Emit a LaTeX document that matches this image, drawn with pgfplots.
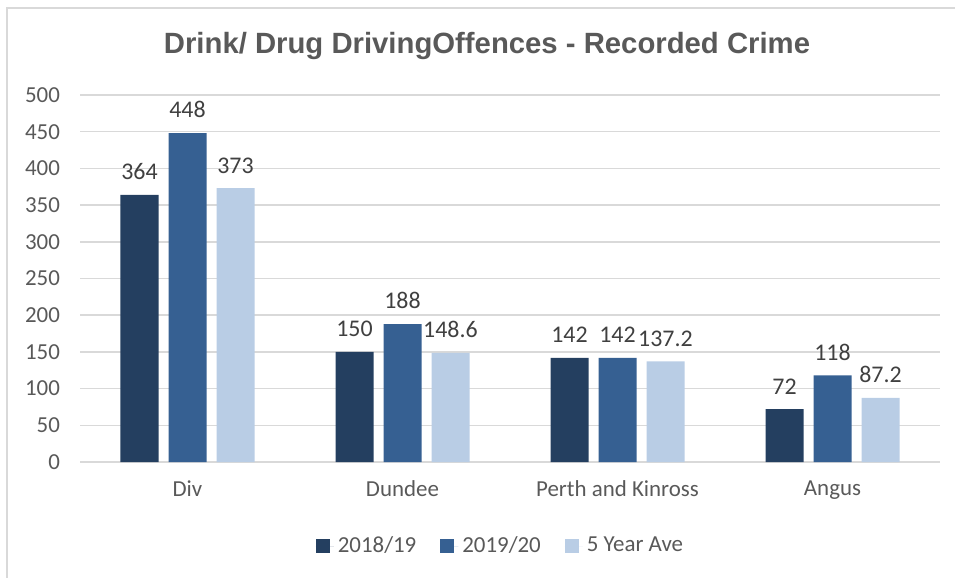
\documentclass[border=0pt]{standalone}
\usepackage{pgfplots}
\pgfplotsset{compat=1.18}
\usepackage{fontspec}
\setmainfont{Carlito}
\newfontfamily\titlefont{Liberation Sans}
\definecolor{cA}{HTML}{243F60}
\definecolor{cB}{HTML}{366092}
\definecolor{cC}{HTML}{B9CDE5}
\definecolor{gridc}{HTML}{D9D9D9}
\definecolor{txt}{HTML}{595959}
\definecolor{lbl}{HTML}{404040}
\begin{document}
\begin{tikzpicture}
\path[use as bounding box] (0,0) rectangle (477.5bp,289bp);
\draw[gridc, line width=1bp] (3.5bp,0) -- (3.5bp,285bp) -- (477.5bp,285bp);
\node[font=\titlefont\bfseries\fontsize{14.7}{17}\selectfont, text=txt] at (243.5bp,266bp) {Drink/ Drug DrivingOffences - Recorded Crime};
\begin{axis}[
  at={(40bp,58bp)}, anchor=south west,
  scale only axis,
  width=430bp, height=183.5bp,
  ybar=5bp, bar width=19bp,
  xmin=-0.5, xmax=3.5,
  ymin=0, ymax=500,
  ytick={0,50,...,500},
  xtick=data,
  xticklabels={Div,Dundee,Perth and Kinross,Angus},
  axis line style={draw=none},
  ymajorgrids, grid style={gridc, line width=0.75bp},
  major tick length=0pt,
  /pgf/number format/assume math mode=true,
  tick label style={font=\fontsize{11.5}{13}\selectfont, text=txt},
  yticklabel style={anchor=east, xshift=-6.5bp},
  xticklabel style={anchor=north, yshift=-6bp},
  nodes near coords,
  every node near coord/.append style={font=\fontsize{12}{14}\selectfont, text=lbl, yshift=4bp},
  legend style={at={(0.49,-0.229)}, anchor=center, draw=none, legend columns=-1,
    font=\fontsize{11.5}{13}\selectfont, text=txt,
    /tikz/every even column/.append style={column sep=10bp}},
  legend image code/.code={\fill[#1] (0bp,-3.5bp) rectangle (7bp,3.5bp); \path (0bp,0bp) -- (9bp,0bp);},
  clip=false,
]
\addplot[fill=cA, draw=none] coordinates {(0,364) (1,150) (2,142) (3,72)};
\addplot[fill=cB, draw=none] coordinates {(0,448) (1,188) (2,142) (3,118)};
\addplot[fill=cC, draw=none] coordinates {(0,373) (1,148.6) (2,137.2) (3,87.2)};
\legend{2018/19,2019/20,5 Year Ave}
\end{axis}
\end{tikzpicture}
\end{document}
